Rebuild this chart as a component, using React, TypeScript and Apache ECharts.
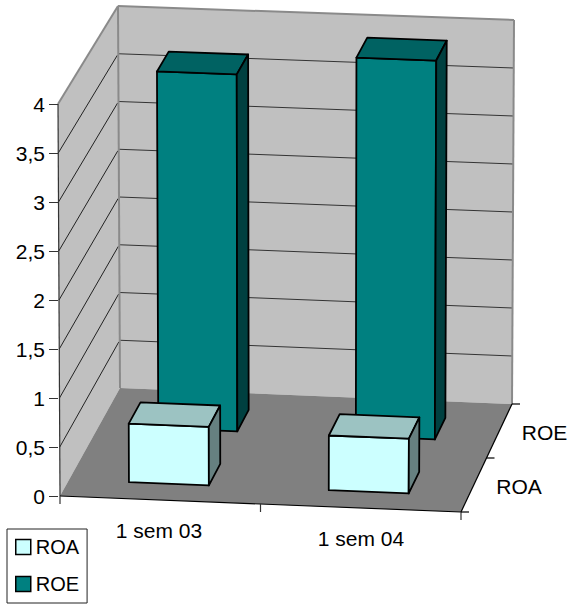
import React, { useEffect, useRef } from "react";
import * as echarts from "echarts";

const categories = ["1 sem 03", "1 sem 04"];
const roaValues = [0.6, 0.56];
const roeValues = [3.7, 3.92];
const wallTicks = [0.5, 1, 1.5, 2, 2.5, 3, 3.5];
const depthNames = ["ROA", "ROE"];

const FONT = "'Liberation Sans', Arial, sans-serif";
const GRID = { left: 58, top: 104.5, width: 404, height: 392 };
const VMAX = 4;

// Corners of the pseudo-3D box: [front-left, front-right, back-left, back-right]
const BOTTOM = [[60, 496], [461, 512], [120, 388], [512, 404]];
const TOP = [[58, 104], [463, 120], [118, 6], [514, 20]];

const mix = (a: number[], b: number[], t: number) => [a[0] + (b[0] - a[0]) * t, a[1] + (b[1] - a[1]) * t];
const project = (u: number, w: number, v: number) => {
  const bot = mix(mix(BOTTOM[0], BOTTOM[1], u), mix(BOTTOM[2], BOTTOM[3], u), w);
  const top = mix(mix(TOP[0], TOP[1], u), mix(TOP[2], TOP[3], u), w);
  return mix(bot, top, v);
};

const poly = (points: number[][], fill: string, stroke: string | null, lineWidth = 1.8) => ({
  type: "polygon",
  shape: { points },
  style: { fill, stroke: stroke || "none", lineWidth, lineJoin: "round" },
});
const seg = (a: number[], b: number[], stroke: string, lineWidth = 1) => ({
  type: "line",
  shape: { x1: a[0], y1: a[1], x2: b[0], y2: b[1] },
  style: { stroke, lineWidth },
});

function barRenderer(depthIndex: number, front: string, topC: string, side: string) {
  return (_p: any, api: any) => {
    const pos = api.coord([api.value(0), api.value(1)]);
    const center = (pos[0] - GRID.left) / GRID.width;
    const v = (GRID.top + GRID.height - pos[1]) / GRID.height;
    const halfU = (api.size([1, 0])[0] / GRID.width) * 0.2;
    const u0 = center - halfU;
    const u1 = center + halfU;
    const w0 = 0.15 + depthIndex * 0.5;
    const w1 = w0 + 0.2;
    return {
      type: "group",
      children: [
        poly([project(u0, w0, 0), project(u1, w0, 0), project(u1, w0, v), project(u0, w0, v)], front, "#000"),
        poly([project(u0, w0, v), project(u1, w0, v), project(u1, w1, v), project(u0, w1, v)], topC, "#000"),
        poly([project(u1, w0, 0), project(u1, w1, 0), project(u1, w1, v), project(u1, w0, v)], side, "#000"),
      ],
    };
  };
}

function renderBox() {
  const children: any[] = [
    poly([project(0, 0, 0), project(0, 1, 0), project(0, 1, 1), project(0, 0, 1)], "#C0C0C0", null),
    poly([project(0, 1, 0), project(1, 1, 0), project(1, 1, 1), project(0, 1, 1)], "#C0C0C0", null),
    poly([project(0, 0, 0), project(1, 0, 0), project(1, 1, 0), project(0, 1, 0)], "#808080", null),
  ];
  wallTicks.forEach((t) => {
    const v = t / VMAX;
    children.push(seg(project(0, 0, v), project(0, 0.985, v), "#222"));
    children.push(seg(project(0, 1, v), project(1, 1, v), "#333"));
  });
  // wall outlines
  children.push(seg(project(0, 0, 1), project(0, 1, 1), "#8a8a8a", 2));
  children.push(seg(project(0, 1, 1), project(1, 1, 1), "#8a8a8a", 2));
  children.push(seg(project(0, 1, 0), project(0, 1, 1), "#8a8a8a", 2));
  children.push(seg(project(1, 1, 0), project(1, 1, 1), "#8a8a8a", 2));
  // axes on the box
  children.push(seg(project(0, 0, 0), project(0, 0, 1), "#333", 1.2));
  children.push(seg(project(0, 0, 0), project(1, 0, 0), "#000", 1.2));
  children.push(seg(project(1, 0, 0), project(1, 1, 0), "#000", 1.2));
  // front ticks
  [0, 0.5, 1].forEach((u) => {
    const p = project(u, 0, 0);
    children.push(seg(p, [p[0], p[1] + 8], "#333", 1.2));
  });
  // depth ticks
  [0, 0.5, 1].forEach((w) => {
    const p = project(1, w, 0);
    children.push(seg(p, [p[0] + 8, p[1]], "#000", 1.2));
  });
  depthNames.forEach((name, i) => {
    const p = project(1, 0.25 + i * 0.5, 0);
    children.push({
      type: "text",
      style: {
        text: name,
        x: p[0] + 22.5,
        y: p[1] + 1,
        fill: "#000",
        font: `21px ${FONT}`,
        textAlign: "left",
        textVerticalAlign: "middle",
      },
    });
  });
  return { type: "group", children };
}

export default function App() {
  const ref = useRef<HTMLDivElement>(null);
  useEffect(() => {
    document.body.style.margin = "0";
    const chart = echarts.init(ref.current!, undefined, { renderer: "svg" });
    chart.setOption({
      animation: false,
      backgroundColor: "#fff",
      grid: { ...GRID },
      legend: {
        left: 7,
        top: 529,
        orient: "vertical",
        align: "left",
        data: [
          { name: "ROA", icon: "rect" },
          { name: "ROE", icon: "rect" },
        ],
        itemWidth: 15,
        itemHeight: 15,
        itemGap: 17,
        padding: [8, 8, 9, 8],
        borderColor: "#222",
        borderWidth: 1,
        backgroundColor: "#fff",
        selectedMode: false,
        textStyle: { fontFamily: FONT, fontSize: 20, color: "#000", width: 44 },
        itemStyle: { borderColor: "#000", borderWidth: 1.5 },
      },
      xAxis: {
        type: "category",
        data: categories,
        axisLine: { show: false },
        axisTick: { show: false },
        axisLabel: {
          margin: 23,
          interval: 0,
          formatter: (v: string, i: number) => `{c${i}|${v}}`,
          rich: {
            c0: { fontFamily: FONT, fontSize: 21, color: "#000" },
            c1: { fontFamily: FONT, fontSize: 21, color: "#000", padding: [8, 0, 0, 0] },
          },
        },
      },
      yAxis: {
        type: "value",
        min: 0,
        max: VMAX,
        interval: 0.5,
        axisLine: { show: false },
        splitLine: { show: false },
        axisTick: { show: true, length: 9, inside: false, lineStyle: { color: "#333", width: 1 } },
        axisLabel: {
          margin: 13,
          fontFamily: FONT,
          fontSize: 21,
          color: "#000",
          formatter: (v: number) => String(v).replace(".", ","),
        },
      },
      series: [
        {
          name: "box",
          type: "custom",
          silent: true,
          clip: false,
          z: 1,
          data: [[0, 0]],
          renderItem: renderBox,
        },
        {
          name: "ROE",
          type: "custom",
          silent: true,
          clip: false,
          z: 2,
          itemStyle: { color: "#008080" },
          data: roeValues.map((v, i) => [i, v]),
          renderItem: barRenderer(1, "#008080", "#006262", "#004040"),
        },
        {
          name: "ROA",
          type: "custom",
          silent: true,
          clip: false,
          z: 3,
          itemStyle: { color: "#CCFFFF" },
          data: roaValues.map((v, i) => [i, v]),
          renderItem: barRenderer(0, "#CCFFFF", "#9CC3C2", "#668080"),
        },
      ],
    });
    return () => chart.dispose();
  }, []);
  return <div ref={ref} style={{ width: 578, height: 607 }} />;
}
